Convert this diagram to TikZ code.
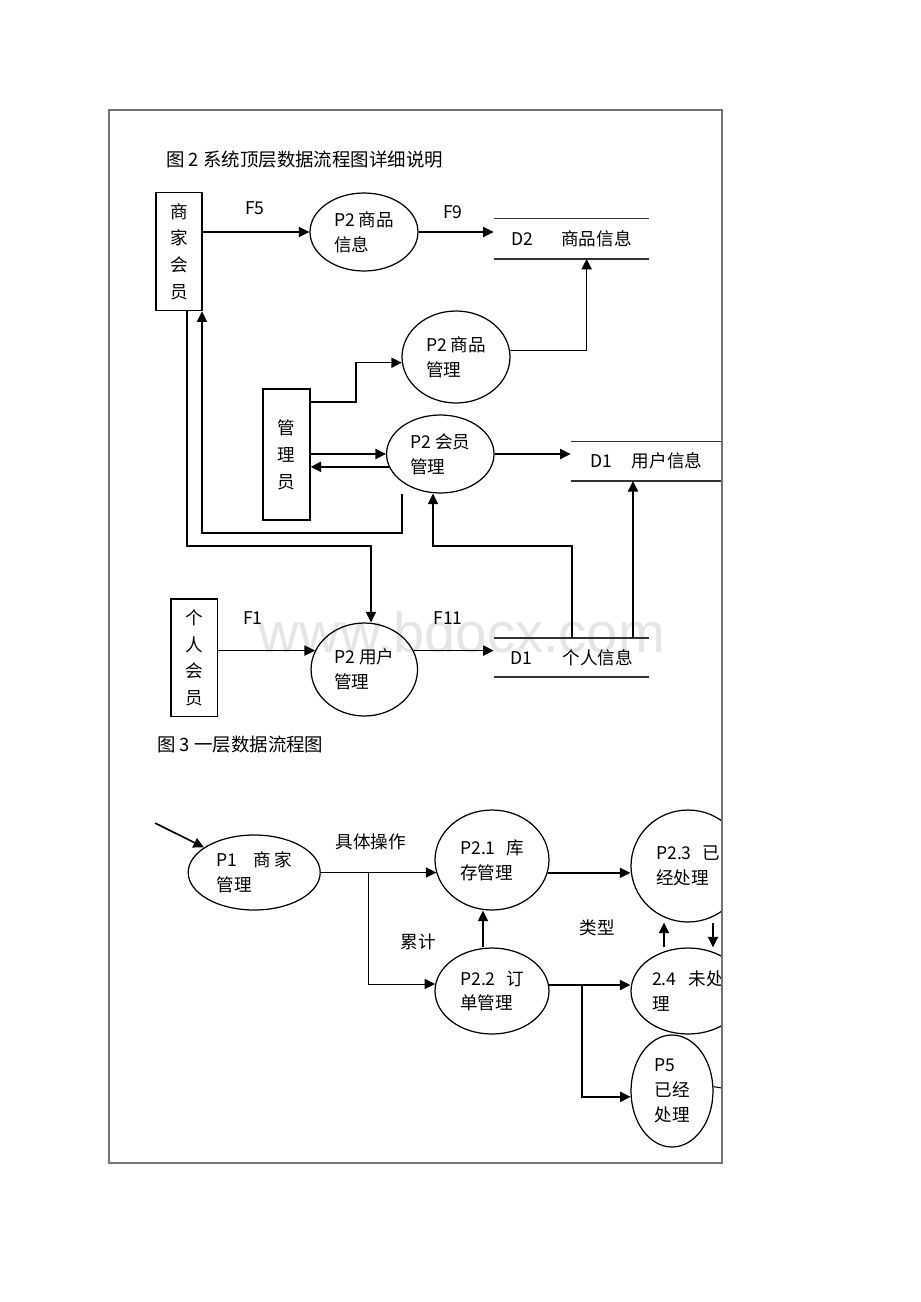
\documentclass[tikz,border=0pt]{standalone}
\usepackage{fontspec}
\setmainfont{Noto Sans CJK SC}
\newfontfamily\wmfont{Liberation Sans}
\usetikzlibrary{shapes.geometric,arrows.meta,calc}
\begin{document}
\begin{tikzpicture}[x=0.02cm,y=-0.02cm,
        font=\fontsize{10}{14.2}\selectfont,
        proc/.style={draw,ellipse,line width=0.7pt,inner sep=0pt,align=left},
        ent/.style={draw,rectangle,line width=0.7pt,inner sep=0pt,align=center,font=\fontsize{10}{15.3}\selectfont},
        store/.style={inner sep=0pt,minimum width=3.1cm,minimum height=0.79cm},
        flow/.style={line width=0.9pt,-{Triangle[length=6pt,width=5.8pt]}},
        lbl/.style={inner sep=0pt}]
    \useasboundingbox (0,0) rectangle (920,1302);
    \begin{scope}
        \clip (109,110) rectangle (722,1163);
        \node[text=gray!20,font=\wmfont\fontsize{32}{32}\selectfont,anchor=base] (wm) at (462,652) {www.bdocx.com};
        \node[lbl,anchor=west,font=\fontsize{10.5}{12}\selectfont] (t2) at (166,160) {图 2 系统顶层数据流程图详细说明};
        \node[ent,minimum width=0.92cm,minimum height=2.36cm] (shjy) at (179,251.7) {商\\家\\会\\员};
        \node[ent,minimum width=0.94cm,minimum height=2.62cm] (gly) at (286.5,454.5) {管\\理\\员};
        \node[ent,minimum width=0.93cm,minimum height=2.35cm] (grhy) at (194.3,657.8) {个\\人\\会\\员};
        \node[proc,minimum width=2.16cm,minimum height=1.56cm] (spxx) at (364,232) {P2 商品\\信息};
        \node[proc,minimum width=2.16cm,minimum height=1.84cm] (spgl) at (456,357) {P2 商品\\管理};
        \node[proc,minimum width=2.15cm,minimum height=1.56cm] (hygl) at (440.3,454) {P2 会员\\管理};
        \node[proc,minimum width=2.13cm,minimum height=1.86cm] (yhgl) at (364.3,669.5) {P2 用户\\管理};
        \node[store] (d2) at (571.5,238.8) {D2\hspace{1.6em}商品信息\hspace{0.6em}};
        \node[store,minimum width=3.02cm,minimum height=0.78cm] (d1y) at (646.5,461.2) {D1\hspace{1.1em}用户信息\hspace{0.9em}};
        \node[store,minimum height=0.77cm] (d1g) at (571.5,657.5) {D1\hspace{1.75em}个人信息\hspace{0.5em}};
        \draw[line width=0.8pt,black!80] (d2.north west) -- (d2.north east) (d2.south west) -- (d2.south east);
        \draw[line width=0.8pt,black!80] (d1y.north west) -- (d1y.north east) (d1y.south west) -- (d1y.south east);
        \draw[line width=0.8pt,black!80] (d1g.north west) -- (d1g.north east) (d1g.south west) -- (d1g.south east);
        \node[lbl] (f5) at (255,208) {F5};
        \node[lbl] (f9) at (453,212) {F9};
        \node[lbl] (f1) at (253,618) {F1};
        \node[lbl] (f11) at (448,618) {F11};
        \coordinate (b1) at (356,402);
        \coordinate (b2) at (402,494);
        \coordinate (b3) at (202,533);
        \coordinate (b4) at (371,546);
        \coordinate (b5) at (187,546);
        \coordinate (b6) at (433,546);
        \coordinate (b7) at (572,546);
        \coordinate (b8) at (633,560);
        \draw[flow] (shjy.east |- spxx.west) -- (spxx.west);
        \draw[flow] (spxx.east) -- (spxx.east -| d2.west);
        \draw[flow] (spgl.7) -| ($(d2.south west)+(93,0)$);
        \draw[flow] (gly.east |- b1) -- (b1) |- (spgl.186);
        \draw[flow] (gly.east |- hygl.west) -- (hygl.west);
        \draw[flow] (hygl.194) -- (gly.east |- hygl.194);
        \draw[flow] (hygl.east) -- (hygl.east -| d1y.west);
        \draw[flow, line width=0.6pt] (b2) |- (b3) -- (b3 |- shjy.south);
        \draw[flow, line width=0.6pt] (b5 |- shjy.south) -- (b5) -- (b4) -- (b4 |- yhgl.north);
        \draw[flow, line width=0.6pt] (b7 |- d1g.north) -- (b7) -- (b6) -- (b6 |- hygl.south);
        \draw[flow] (b8 |- d1g.north) -- (b8 |- d1y.south);
        \draw[flow] (grhy.east |- yhgl.159) -- (yhgl.159);
        \draw[flow] (yhgl.21) -- (yhgl.21 -| d1g.west);

        \node[lbl,anchor=west,font=\fontsize{10.5}{12}\selectfont] (t3) at (157,745) {图 3 一层数据流程图};
        \node[proc,minimum width=2.64cm,minimum height=1.5cm] (sjgl) at (254.2,872.5) {P1\hspace{0.9em}商\hspace{0.2em}家\\管理};
        \node[proc,minimum width=2.28cm,minimum height=2cm] (kcgl) at (492,860) {P2.1\hspace{0.6em}库\\存管理};
        \node[proc,minimum width=2.28cm,minimum height=1.72cm] (ddgl) at (492,991) {P2.2\hspace{0.6em}订\\单管理};
        \node[proc,minimum width=2.28cm,minimum height=2.24cm] (yjcl) at (688,866) {P2.3\hspace{0.6em}已\\经处理};
        \node[proc,minimum width=2.28cm,minimum height=1.72cm] (wcl) at (688,991) {2.4\hspace{0.7em}未处\\理};
        \node[proc,minimum width=1.64cm,minimum height=2.24cm] (p5) at (672,1091) {P5\\已经\\处理};
        \node[lbl] (jtcz) at (370.7,841.7) {具体操作};
        \node[lbl] (lj) at (418,941.7) {累计};
        \node[lbl] (lx) at (597,928) {类型};
        \coordinate (src) at (155,823);
        \coordinate (b10) at ($(sjgl.east)+(48,0)$);
        \coordinate (b11) at (483,930);
        \coordinate (b12) at (664,935);
        \coordinate (b13) at (713,930);
        \coordinate (b14) at (582,985);
        \coordinate (b15) at (722,1088);
        \draw[flow] (src) -- (sjgl);
        \draw[flow] (sjgl.east) -- (sjgl.east -| kcgl.193);
        \draw[flow, line width=0.6pt] (b10) |- (ddgl.173);
        \draw[flow] (b11 |- ddgl.north) -- (b11 |- kcgl.south);
        \draw[flow] (kcgl.347) -- (kcgl.347 -| yjcl.west);
        \draw[flow] (b12 |- wcl.north) -- (b12 |- yjcl.south);
        \draw[flow] (b13 |- yjcl.south) -- (b13 |- wcl.north);
        \draw[flow] (ddgl.6) -- (ddgl.6 -| wcl.west);
        \draw[flow] (b14) |- (p5.188);
        \draw[line width=0.6pt] (p5.6) -- (b15);
    \end{scope}
    \draw[black!55,line width=0.6pt] (109,110) rectangle (722,1163);
\end{tikzpicture}
\end{document}
